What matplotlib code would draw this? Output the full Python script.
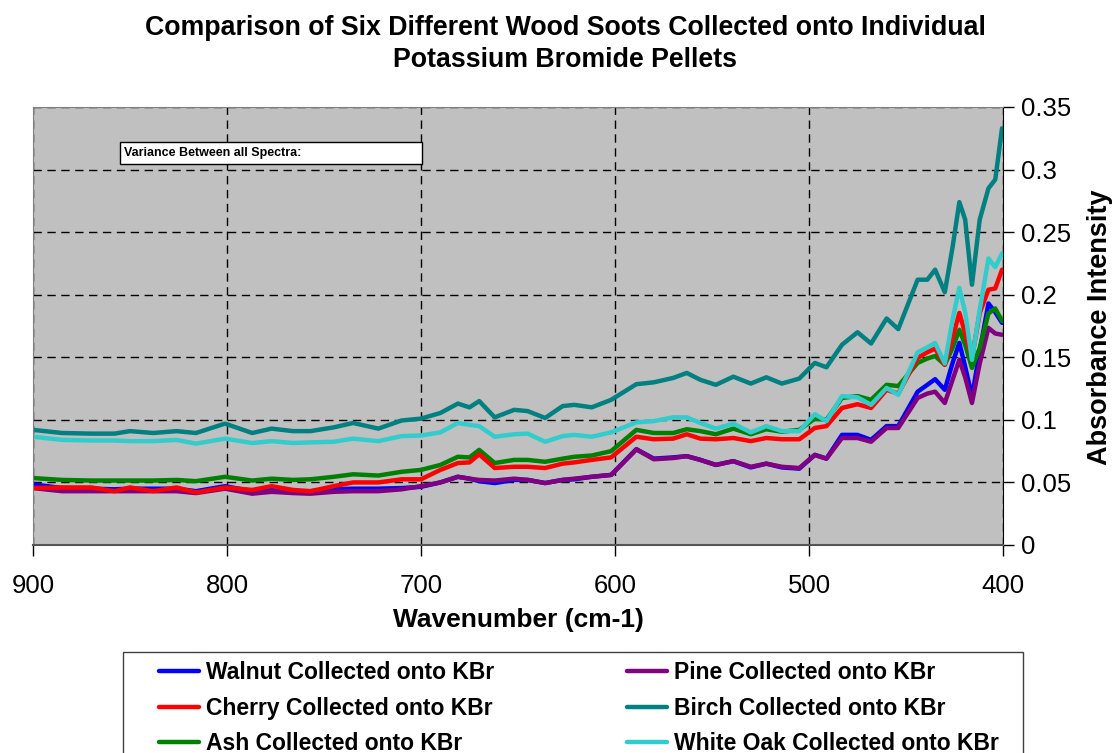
import matplotlib
matplotlib.use("Agg")
import matplotlib.pyplot as plt
from matplotlib.patches import Rectangle
from matplotlib.ticker import FuncFormatter, MultipleLocator

plt.rcParams['font.family'] = ['Liberation Sans', 'DejaVu Sans']

# wavenumber grid (cm-1) shared by all spectra
wavenumber = [900, 885, 870, 858, 850, 838, 826, 816, 801, 787,
              777, 766, 757, 745, 735, 722, 710, 700, 690, 681,
              675, 670, 662, 652, 645, 636, 627, 621, 612, 602,
              589, 580, 570, 563, 556, 548, 539, 530, 522, 514,
              505, 497, 491, 483, 475, 468, 460, 454, 444, 439,
              435, 430, 426, 422.5, 419.5, 416, 412, 407.5, 404, 400.5]

walnut = [0.0485, 0.0455, 0.045, 0.0445, 0.045, 0.045, 0.045, 0.043, 0.047, 0.043,
          0.044, 0.043, 0.043, 0.0445, 0.045, 0.045, 0.0455, 0.0465, 0.050, 0.0545,
          0.053, 0.051, 0.0495, 0.052, 0.052, 0.0495, 0.052, 0.0525, 0.0545, 0.056,
          0.0765, 0.069, 0.070, 0.071, 0.068, 0.064, 0.067, 0.062, 0.065, 0.062,
          0.061, 0.072, 0.069, 0.088, 0.088, 0.084, 0.095, 0.095, 0.1225, 0.128,
          0.1325, 0.124, 0.1455, 0.1615, 0.1425, 0.1185, 0.155, 0.193, 0.186, 0.1775]

cherry = [0.0455, 0.046, 0.046, 0.043, 0.046, 0.043, 0.046, 0.042, 0.046, 0.044,
          0.047, 0.044, 0.043, 0.047, 0.050, 0.050, 0.0525, 0.0525, 0.060, 0.0655,
          0.066, 0.0725, 0.0615, 0.0625, 0.0625, 0.0615, 0.065, 0.066, 0.068, 0.070,
          0.0865, 0.0845, 0.085, 0.0885, 0.085, 0.0845, 0.0855, 0.083, 0.0855, 0.0845,
          0.0845, 0.0935, 0.095, 0.1095, 0.1125, 0.1095, 0.124, 0.121, 0.1495, 0.154,
          0.157, 0.144, 0.1655, 0.1855, 0.169, 0.1495, 0.1855, 0.204, 0.205, 0.22]

ash = [0.0535, 0.052, 0.0515, 0.0515, 0.0515, 0.0515, 0.052, 0.051, 0.0545, 0.0515,
       0.053, 0.052, 0.0525, 0.0545, 0.0565, 0.0555, 0.0585, 0.060, 0.064, 0.0705,
       0.070, 0.076, 0.0655, 0.068, 0.068, 0.0665, 0.069, 0.0705, 0.0715, 0.075,
       0.092, 0.0895, 0.0895, 0.0925, 0.091, 0.0885, 0.093, 0.0885, 0.0925, 0.0905,
       0.092, 0.101, 0.100, 0.1175, 0.119, 0.116, 0.128, 0.127, 0.1455, 0.149,
       0.151, 0.144, 0.1575, 0.172, 0.160, 0.1415, 0.1575, 0.185, 0.189, 0.179]

pine = [0.0455, 0.043, 0.043, 0.043, 0.043, 0.043, 0.043, 0.0415, 0.045, 0.041,
        0.0425, 0.0415, 0.041, 0.0425, 0.043, 0.043, 0.0445, 0.047, 0.050, 0.0545,
        0.053, 0.052, 0.0515, 0.053, 0.052, 0.0495, 0.052, 0.053, 0.0545, 0.056,
        0.0765, 0.0685, 0.0695, 0.071, 0.068, 0.064, 0.067, 0.0625, 0.065, 0.0625,
        0.0615, 0.072, 0.069, 0.0855, 0.0855, 0.0825, 0.0935, 0.0935, 0.1175, 0.121,
        0.1225, 0.1135, 0.132, 0.148, 0.134, 0.1135, 0.145, 0.1735, 0.169, 0.168]

birch = [0.092, 0.0895, 0.089, 0.089, 0.091, 0.0895, 0.091, 0.0895, 0.097, 0.0895,
         0.093, 0.091, 0.091, 0.094, 0.0975, 0.093, 0.0995, 0.101, 0.1055, 0.113,
         0.110, 0.115, 0.102, 0.108, 0.107, 0.1015, 0.111, 0.112, 0.110, 0.116,
         0.1285, 0.130, 0.1335, 0.1375, 0.132, 0.128, 0.1345, 0.129, 0.134, 0.129,
         0.133, 0.1455, 0.142, 0.160, 0.170, 0.161, 0.181, 0.1725, 0.212, 0.212,
         0.22, 0.202, 0.238, 0.274, 0.26, 0.208, 0.26, 0.285, 0.292, 0.333]

white_oak = [0.0865, 0.084, 0.0835, 0.0835, 0.083, 0.083, 0.084, 0.081, 0.085, 0.0815,
             0.083, 0.0815, 0.082, 0.0825, 0.085, 0.083, 0.087, 0.0875, 0.090, 0.0975,
             0.096, 0.095, 0.0865, 0.0885, 0.089, 0.0825, 0.087, 0.088, 0.0865, 0.090,
             0.098, 0.099, 0.102, 0.102, 0.0975, 0.093, 0.097, 0.090, 0.095, 0.091,
             0.091, 0.1045, 0.099, 0.119, 0.118, 0.112, 0.1255, 0.120, 0.154, 0.158,
             0.1615, 0.145, 0.18, 0.2055, 0.186, 0.148, 0.188, 0.229, 0.222, 0.233]

# drawing order (later on top) and legend order (column-major)
series = [("Walnut Collected onto KBr", walnut, "#0000FF"),
          ("Pine Collected onto KBr", pine, "#800080"),
          ("Ash Collected onto KBr", ash, "#008000"),
          ("Cherry Collected onto KBr", cherry, "#FF0000"),
          ("Birch Collected onto KBr", birch, "#008080"),
          ("White Oak Collected onto KBr", white_oak, "#33CCCC")]
legend_order = ["Walnut Collected onto KBr", "Cherry Collected onto KBr", "Ash Collected onto KBr",
                "Pine Collected onto KBr", "Birch Collected onto KBr", "White Oak Collected onto KBr"]

W, H = 1116, 753
fig = plt.figure(figsize=(W/100, H/100), dpi=100)
ax = fig.add_axes([33/W, 1-545/H, 970/W, 438/H])
ax.set_facecolor("#C0C0C0")

handles = {}
for name, y, c in series:
    ln, = ax.plot(wavenumber, y, color=c, lw=3.2, label=name, solid_capstyle='round', solid_joinstyle='round')
    handles[name] = ln

ax.set_xlim(900, 400)
ax.set_ylim(0, 0.35)
ax.xaxis.set_major_locator(MultipleLocator(100))
ax.yaxis.set_major_locator(MultipleLocator(0.05))
ax.yaxis.set_major_formatter(FuncFormatter(lambda v, p: "%g" % round(v, 2)))
ax.yaxis.tick_right()
ax.tick_params(axis='both', direction='out', length=8, width=1, labelsize=18.5, colors='black')
ax.tick_params(axis='x', pad=13)
ax.tick_params(axis='y', pad=5)

''' dashed grid '''
ax.grid(True, linestyle=(0, (6, 4)), color="black", linewidth=1)
ax.set_axisbelow(True)

for s in ['left', 'top']:
    ax.spines[s].set_color("#808080")
ax.spines['bottom'].set_color("#555555")
ax.spines['bottom'].set_linewidth(1.5)
ax.spines['right'].set_color("black")

ax.set_xlabel("Wavenumber (cm-1)", fontsize=19, fontweight='bold', labelpad=7)
fig.text(1100/W, 1-327/H, "Absorbance Intensity", fontsize=19.5, fontweight='bold',
         rotation=90, ha='center', va='center')

fig.suptitle("Comparison of Six Different Wood Soots Collected onto Individual\nPotassium Bromide Pellets",
             x=565/W, y=1-15/H, fontsize=19.3, fontweight='bold', linespacing=1.28)

''' variance text box '''
ax.add_patch(Rectangle((0.0897, 0.870), 0.311, 0.050, transform=ax.transAxes,
                       facecolor="white", edgecolor="black", lw=1, zorder=5))
ax.text(0.094, 0.895, "Variance Between all Spectra:", transform=ax.transAxes,
        fontsize=9, fontweight='bold', va='center', ha='left', zorder=6)

''' legend box, cut off by the bottom edge '''
fig.patches.append(Rectangle((123/W, -10/H), 900/W, (10+101)/H, transform=fig.transFigure,
                             facecolor="white", edgecolor="#404040", lw=1, zorder=0))
leg = fig.legend([handles[n] for n in legend_order], legend_order, ncol=2,
                 loc='upper left', bbox_to_anchor=(159/W, 1-661/H),
                 prop={'size': 16.5, 'weight': 'bold'}, frameon=False,
                 handlelength=1.75, handletextpad=0.3, columnspacing=5.8,
                 borderpad=0, labelspacing=0.55, borderaxespad=0)

fig.savefig("out.png", dpi=100)
